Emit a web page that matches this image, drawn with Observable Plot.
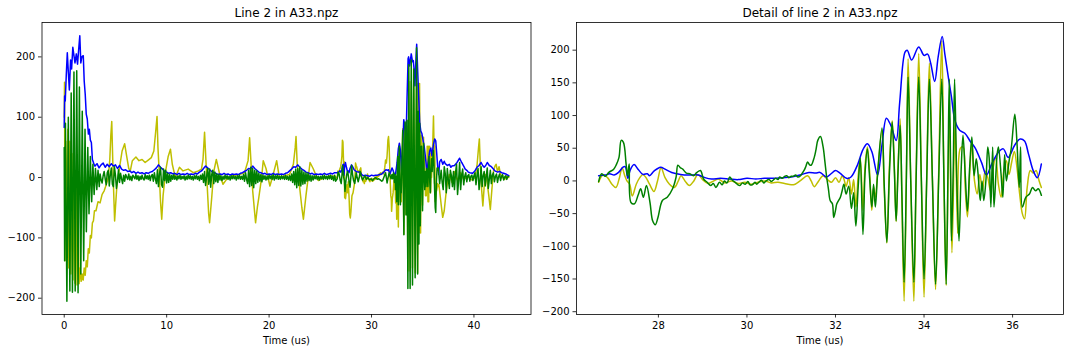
<!DOCTYPE html>
<html><head><meta charset="utf-8">
<script src="https://cdn.jsdelivr.net/npm/d3@7"></script>
<script src="https://cdn.jsdelivr.net/npm/@observablehq/plot@0.6"></script>
<style>
body{margin:0;background:#fff;}
#wrap{display:flex;width:1072px;height:352px;background:#fff;}
</style></head><body><div id="wrap"></div>
<script>
// Series A: slow signal (yellow in overview, green in detail). [time (us), value]
const slowSignal = [
[0.00,100],[0.03,158],[0.08,-138],[0.15,60],[0.25,-100],[0.35,80],[0.45,-150],[0.55,60],[0.65,-160],[0.75,40],[0.85,-170],[0.95,20],[1.05,-175],[1.15,0],[1.25,-178],[1.35,-60],[1.45,-176],[1.55,-150],[1.65,-172],[1.75,-160],[1.85,-170],[1.95,-150],[2.05,-162],[2.15,-138],[2.25,-148],[2.35,-118],[2.45,-125],[2.55,-96],[2.65,-100],[2.75,-75],[2.85,-72],[2.95,-55],[3.10,-55],[3.30,-40],[3.50,-42],[3.70,-28],[3.90,-22],[4.10,-12],[4.30,0],[4.45,30],[4.55,70],[4.64,93],[4.72,40],[4.80,-10],[4.92,-72],[5.00,-50],[5.15,-11],[5.40,17],[5.65,44],[5.90,56],[6.10,35],[6.30,15],[6.45,11],[6.65,28],[7.00,34],[7.30,28],[7.60,30],[7.90,25],[8.20,29],[8.50,33],[8.75,44],[8.95,80],[9.06,101],[9.15,50],[9.25,17],[9.40,-40],[9.52,-69],[9.65,-30],[9.90,11],[10.15,35],[10.37,47],[10.55,22],[10.85,0],[11.25,17],[11.60,11],[12.10,14],[12.60,8],[13.10,11],[13.40,14],[13.55,30],[13.70,75],[13.80,40],[13.95,-11],[14.10,-60],[14.19,-75],[14.40,-33],[14.60,10],[14.85,30],[15.18,5],[15.50,-11],[15.85,-3],[16.40,3],[17.10,5],[17.60,8],[17.95,28],[18.10,66],[18.25,20],[18.40,-22],[18.68,-75],[18.85,-50],[19.00,-33],[19.27,0],[19.43,28],[19.70,15],[20.08,-14],[20.40,5],[20.74,28],[21.00,0],[21.50,3],[22.00,5],[22.37,22],[22.55,50],[22.63,68],[22.75,20],[22.95,-11],[23.20,-50],[23.35,-69],[23.60,-30],[24.00,25],[24.30,15],[24.80,-5],[25.40,0],[26.00,3],[26.40,2],
[26.65,-1],[26.72,11],[26.80,7],[26.88,13],[26.99,18],[27.05,25],[27.11,36],[27.16,62],[27.21,59],[27.27,26],[27.30,8],[27.34,26],[27.38,-33],[27.46,-35],[27.54,-22],[27.60,-12],[27.66,-25],[27.73,-7],[27.81,-33],[27.87,-61],[27.93,-67],[27.99,-56],[28.09,-30],[28.20,-25],[28.32,-12],[28.40,6],[28.44,24],[28.50,20],[28.55,18],[28.63,12],[28.71,11],[28.79,8],[28.87,13],[28.95,16],[29.02,3],[29.10,-2],[29.18,-7],[29.24,-4],[29.30,-10],[29.38,-2],[29.44,-6],[29.49,0],[29.55,-3],[29.61,6],[29.67,1],[29.73,-2],[29.78,-5],[29.84,-7],[29.90,-3],[29.96,-5],[30.02,-1],[30.07,-6],[30.12,-6],[30.18,-2],[30.22,-5],[30.27,-2],[30.33,1],[30.38,-3],[30.43,0],[30.50,2],[30.55,-1],[30.59,1],[30.65,4],[30.70,2],[30.74,6],[30.80,4],[30.85,7],[30.90,8],[30.95,5],[31.00,7],[31.05,7],[31.10,9],[31.15,6],[31.21,8],[31.25,12],[31.29,16],[31.33,22],[31.37,29],[31.41,25],[31.45,24],[31.52,36],[31.56,48],[31.60,62],[31.66,68],[31.72,52],[31.76,30],[31.80,6],[31.84,-12],[31.88,-30],[31.93,-35],[31.96,-56],[32.00,-45],[32.03,-35],[32.11,-25],[32.15,-15],
[32.19,-5],[32.24,-20],[32.30,-8],[32.36,-42],[32.41,-18],[32.46,-69],[32.51,-12],[32.56,35],[32.62,-82],[32.67,15],[32.72,49],[32.77,5],[32.82,-40],[32.86,-5],[32.90,-40],[32.95,10],[33.05,81],[33.10,-5],[33.16,-94],[33.22,15],[33.28,90],[33.33,15],[33.37,-61],[33.41,10],[33.46,85],[33.50,-20],[33.55,-155],[33.60,0],[33.64,159],[33.70,0],[33.77,-155],[33.82,0],[33.88,159],[33.94,0],[34.00,-150],[34.06,0],[34.12,156],[34.19,0],[34.26,-158],[34.33,0],[34.40,156],[34.45,0],[34.50,-158],[34.54,10],[34.57,156],[34.60,20],[34.62,-92],[34.66,20],[34.69,156],[34.74,0],[34.79,-92],[34.84,20],[34.88,70],[34.93,10],[34.98,-46],[35.03,20],[35.08,67],[35.13,8],[35.18,34],[35.22,11],[35.27,-30],[35.31,0],[35.35,-30],[35.40,3],[35.44,52],[35.47,36],[35.51,-40],[35.55,52],[35.58,-40],[35.65,40],[35.68,52],[35.74,10],[35.78,-25],[35.82,40],[35.86,0],[35.92,30],[35.97,50],[36.05,102],[36.10,57],[36.15,-10],[36.18,52],[36.22,-40],[36.30,-25],[36.38,-20],[36.45,-10],[36.52,-15],[36.58,-12],[36.65,-22],
[36.80,-45],[36.95,-66],[37.10,-55],[37.25,-30],[37.40,-10],[37.60,5],[37.85,-8],[38.10,10],[38.40,-5],[38.70,8],[39.00,-3],[39.40,2],[39.80,-4],[40.10,0],[40.30,20],[40.45,50],[40.53,64],[40.62,20],[40.75,-20],[40.87,-47],[41.00,-15],[41.15,5],[41.30,-10],[41.45,-30],[41.60,-53],[41.75,-20],[41.90,10],[42.05,19],[42.17,22],[42.30,10],[42.45,18],[42.60,5],[42.80,0],[43.00,-3],[43.20,3],[43.40,0]
];

// Series B: fast signal (green in overview, yellow in detail). [time (us), value]
const fastSignal = [
[0.00,50],[0.04,-138],[0.12,90],[0.26,-205],[0.40,100],[0.55,-188],[0.68,140],[0.80,-190],[0.95,175],[1.07,-188],[1.22,177],[1.35,-191],[1.48,150],[1.62,-160],[1.76,110],[1.90,-138],[2.03,80],[2.16,-90],[2.30,50],[2.42,-60],[2.55,35],[2.68,-40],[2.80,22],[2.92,-28],[3.05,15],[3.18,-20],[3.30,12],[3.42,-15],
[3.5,6],[3.6,-4],[3.7,-9],[3.8,3],[3.9,10],[4.0,-2],[4.1,-12],[4.2,8],[4.3,12],[4.4,-14],
[4.5,5],[4.6,16],[4.7,-11],[4.8,-15],[4.9,18],[5.0,4],[5.1,-18],[5.2,-6],[5.3,13],[5.4,-8],
[5.5,7],[5.6,-2],[5.7,-10],[5.8,4],[5.9,-6],[6.0,5],[6.1,1],[6.2,-3],[6.3,6],[6.4,-4],
[6.5,2],[6.6,-5],[6.7,4],[6.8,1],[6.9,-2],[7.0,5],[7.1,-3],[7.2,3],[7.3,-5],[7.4,2],
[7.5,-3],[7.6,4],[7.7,-2],[7.8,-4],[7.9,5],[8.0,-2],[8.1,3],[8.2,-3],[8.3,4],[8.4,-5],
[8.5,3],[8.6,5],[8.7,-6],[8.8,8],[8.9,-2],[9.0,-10],[9.1,13],[9.2,-15],[9.3,6],[9.4,17],
[9.5,-12],[9.6,-16],[9.7,14],[9.8,-5],[9.9,12],[10.0,-9],[10.1,7],[10.2,-8],[10.3,5],[10.4,-6],
[10.5,4],[10.6,-3],[10.7,5],[10.8,-3],[10.9,2],[11.0,-4],[11.1,3],[11.2,-2],[11.3,4],[11.4,-3],
[11.5,2],[11.6,-2],[11.7,3],[11.8,-4],[11.9,2],[12.0,-3],[12.1,4],[12.2,-2],[12.3,3],[12.4,-3],
[12.5,2],[12.6,-4],[12.7,3],[12.8,-2],[12.9,4],[13.0,-3],[13.1,2],[13.2,-5],[13.3,4],[13.4,-3],
[13.5,6],[13.6,-8],[13.7,10],[13.8,-13],[13.9,2],[14.0,15],[14.1,-11],[14.2,14],[14.3,-16],[14.4,5],
[14.5,12],[14.6,-10],[14.7,9],[14.8,-7],[14.9,6],[15.0,-8],[15.1,5],[15.2,-4],[15.3,3],[15.4,-5],
[15.5,2],[15.6,-3],[15.7,4],[15.8,-2],[15.9,3],[16.0,-3],[16.1,2],[16.2,-4],[16.3,3],[16.4,-2],
[16.5,3],[16.6,-2],[16.7,2],[16.8,-4],[16.9,3],[17.0,-2],[17.1,4],[17.2,-3],[17.3,2],[17.4,-3],
[17.5,5],[17.6,-6],[17.7,8],[17.8,-3],[17.9,-10],[18.0,12],[18.1,-15],[18.2,17],[18.3,-13],[18.4,15],
[18.5,-17],[18.6,12],[18.7,-10],[18.8,11],[18.9,-8],[19.0,7],[19.1,-6],[19.2,5],[19.3,-7],[19.4,4],
[19.5,-3],[19.6,3],[19.7,-4],[19.8,2],[19.9,-3],[20.0,4],[20.1,-2],[20.2,3],[20.3,-3],[20.4,5],
[20.5,-4],[20.6,3],[20.7,-2],[20.8,4],[20.9,-3],[21.0,2],[21.1,-3],[21.2,3],[21.3,-2],[21.4,2],
[21.5,-3],[21.6,4],[21.7,-3],[21.8,2],[21.9,-4],[22.0,3],[22.1,-5],[22.2,6],[22.3,-8],[22.4,10],
[22.5,-12],[22.6,14],[22.7,-17],[22.8,15],[22.9,-13],[23.0,18],[23.1,-14],[23.2,12],[23.3,-11],[23.4,9],
[23.5,-10],[23.6,8],[23.7,-6],[23.8,7],[23.9,-5],[24.0,4],[24.1,-6],[24.2,3],[24.3,-4],[24.4,3],
[24.5,-2],[24.6,3],[24.7,-3],[24.8,2],[24.9,-4],[25.0,2],[25.1,-2],[25.2,3],[25.3,-3],[25.4,4],
[25.5,-2],[25.6,2],[25.7,-3],[25.8,3],[25.9,-2],[26.0,4],[26.1,-3],[26.2,2],[26.3,-5],[26.4,4],[26.5,-6],
[26.65,-2],[26.75,9],[26.85,5],[26.95,-5],[27.04,-10],[27.12,5],[27.18,20],[27.24,8],[27.29,0],[27.35,-5],[27.41,-23],[27.50,-5],[27.58,5],[27.65,10],[27.72,5],[27.80,-5],[27.90,-16],[27.98,0],[28.06,20],[28.15,5],[28.25,-5],[28.36,-10],[28.45,0],[28.51,8],[28.60,0],[28.70,-7],[28.80,0],[28.89,10],[29.00,2],[29.12,-4],[29.25,0],[29.35,3],[29.50,-3],[29.65,0],[29.80,-4],[29.95,-2],[30.10,-5],[30.25,-2],[30.40,0],[30.55,-3],[30.70,-2],[30.85,-4],[31.00,-6],[31.09,-5],[31.20,0],[31.37,8],[31.45,0],[31.52,-9],[31.62,0],[31.72,8],[31.82,2],[31.91,-2],[32.00,5],[32.08,-2],[32.15,8],
[32.19,3],[32.24,-8],[32.30,5],[32.36,-20],[32.41,2],[32.46,-40],[32.51,5],[32.56,35],[32.62,-45],[32.67,25],[32.72,52],[32.77,15],[32.82,-45],[32.86,-10],[32.90,-25],[32.95,10],[33.05,78],[33.10,-10],[33.16,-95],[33.22,25],[33.28,92],[33.33,20],[33.37,-62],[33.41,15],[33.46,95],[33.50,-30],[33.55,-184],[33.60,5],[33.64,187],[33.70,0],[33.77,-184],[33.82,5],[33.88,195],[33.94,0],[34.00,-178],[34.06,5],[34.12,180],[34.19,0],[34.26,-166],[34.33,10],[34.40,215],[34.45,0],[34.50,-160],[34.57,110],[34.63,-110],[34.70,90],[34.76,-80],[34.82,50],[34.88,52],[34.93,-10],[34.98,-55],[35.03,10],[35.08,57],[35.14,0],[35.20,-20],[35.26,10],[35.32,-15],[35.38,15],[35.44,5],[35.50,-15],[35.56,20],[35.62,35],[35.68,-5],[35.74,-25],[35.80,15],[35.86,31],[35.92,10],[35.98,29],[36.04,45],[36.10,20],[36.16,-20],[36.22,-50],[36.27,-58],[36.33,-10],[36.40,16],[36.47,12],[36.53,16],[36.60,0],[36.65,-10],
[36.8,12],[36.9,-8],[37.0,-20],[37.1,18],[37.2,6],[37.3,-25],[37.4,15],[37.5,-4],[37.6,-18],[37.7,12],[37.8,3],[37.9,-15],[38.0,10],[38.1,-20],[38.2,8],[38.3,22],[38.4,-28],[38.5,-6],[38.6,25],[38.7,-20],[38.8,4],[38.9,14],[39.0,-12],[39.1,2],[39.2,8],[39.3,-7],[39.4,3],[39.5,5],[39.6,-6],[39.7,2],[39.8,4],[39.9,-5],[40.0,3],[40.1,8],[40.2,-12],[40.3,4],[40.4,15],[40.5,-20],[40.6,-5],[40.7,18],[40.8,-15],[40.9,3],[41.0,10],[41.1,-14],[41.2,2],[41.3,16],[41.4,-18],[41.5,-3],[41.6,12],[41.7,-10],[41.8,4],[41.9,8],[42.0,-7],[42.1,2],[42.2,6],[42.3,-8],[42.4,1],[42.5,6],[42.6,-5],[42.7,2],[42.8,5],[42.9,-4],[43.0,1],[43.1,3],[43.2,-3],[43.3,1],[43.4,2]
];

// Envelope of the fast signal (blue). [time (us), value]
const envelope = [
[0.00,83],[0.04,135],[0.10,127],[0.20,170],[0.30,207],[0.40,175],[0.50,145],[0.62,195],[0.72,180],[0.84,216],[0.95,202],[1.05,190],[1.18,205],[1.30,188],[1.40,210],[1.52,235],[1.62,190],[1.72,200],[1.86,202],[1.95,160],[2.05,138],[2.15,105],[2.25,97],[2.36,72],[2.45,80],[2.55,62],[2.65,58],[2.75,30],[2.85,25],[2.95,20],
[3.0,19],[3.2,23],[3.4,16],[3.6,21],[3.8,24],[4.0,17],[4.2,22],[4.4,18],[4.6,23],[4.8,19],[5.0,21],[5.2,15],[5.4,20],[5.6,14],[5.8,12],[6.0,13],[6.2,10],[6.4,11],[6.6,8],[6.8,10],[7.0,7],[7.2,9],[7.4,7],[7.6,8],[7.8,6],[8.0,8],[8.2,7],[8.4,9],[8.6,10],[8.8,13],[9.0,16],[9.2,21],[9.4,17],[9.6,14],[9.8,10],[10.0,9],[10.2,7],[10.4,8],[10.6,6],[10.8,7],[11.0,5],[11.2,7],[11.4,5],[11.6,6],[11.8,5],[12.0,7],[12.2,5],[12.4,6],[12.6,5],[12.8,7],[13.0,6],[13.2,9],[13.4,11],[13.6,15],[13.8,19],[14.0,16],[14.2,13],[14.4,10],[14.6,8],[14.8,7],[15.0,5],[15.2,6],[15.4,5],[15.6,7],[15.8,5],[16.0,6],[16.2,4],[16.4,6],[16.6,5],[16.8,6],[17.0,5],[17.2,7],[17.4,8],[17.6,10],[17.8,12],[18.0,15],[18.2,14],[18.4,19],[18.6,15],[18.8,12],[19.0,9],[19.2,8],[19.4,6],[19.6,7],[19.8,5],[20.0,6],[20.2,5],[20.4,7],[20.6,5],[20.8,6],[21.0,5],[21.2,6],[21.4,5],[21.6,7],[21.8,8],[22.0,11],[22.2,14],[22.4,18],[22.6,17],[22.8,21],[23.0,17],[23.2,14],[23.4,12],[23.6,9],[23.8,8],[24.0,6],[24.2,7],[24.4,5],[24.6,6],[24.8,5],[25.0,6],[25.2,5],[25.4,7],[25.6,5],[25.8,6],[26.0,7],[26.2,6],[26.4,8],
[26.65,8],[26.80,9],[26.90,11],[27.00,9],[27.10,13],[27.20,21],[27.25,22],[27.31,4],[27.36,16],[27.45,25],[27.55,17],[27.65,10],[27.75,11],[27.80,8],[27.90,15],[28.05,21],[28.15,18],[28.30,13],[28.50,10],[28.70,9],[28.90,9],[29.05,5],[29.20,3],[29.40,4],[29.60,3],[29.80,2],[30.00,4],[30.20,3],[30.40,4],[30.60,4],[30.80,5],[31.00,6],[31.20,9],[31.40,13],[31.55,12],[31.65,13],[31.80,6],[31.90,11],[32.00,16],[32.10,12],[32.25,4],[32.35,6],[32.50,25],[32.62,48],[32.72,57],[32.82,45],[32.95,9],[33.05,55],[33.15,96],[33.25,85],[33.37,62],[33.45,120],[33.57,197],[33.62,200],[33.72,185],[33.88,205],[34.00,192],[34.08,194],[34.15,180],[34.24,152],[34.32,190],[34.41,221],[34.47,194],[34.55,158],[34.62,128],[34.70,92],[34.81,77],[34.92,73],[35.05,60],[35.15,51],[35.30,28],[35.41,9],[35.53,26],[35.68,44],[35.79,49],[35.90,36],[36.05,55],[36.17,64],[36.27,61],[36.36,41],[36.47,15],[36.56,5],[36.65,26],
[36.80,30],[36.96,22],[37.10,27],[37.20,23],[37.40,20],[37.60,22],[37.75,17],[37.85,19],[38.10,20],[38.35,25],[38.60,32],[38.80,25],[39.00,19],[39.15,14],[39.30,12],[39.45,9],[39.60,8],[39.85,7],[40.05,10],[40.30,17],[40.50,20],[40.70,25],[40.85,20],[41.00,17],[41.15,20],[41.30,25],[41.50,20],[41.70,18],[41.90,14],[42.05,11],[42.30,9],[42.50,10],[42.70,8],[42.90,7],[43.10,6],[43.30,4],[43.40,3]
];

const overviewXTicks = [0, 10, 20, 30, 40];
const overviewYTicks = [-200, -100, 0, 100, 200];
const detailXTicks = [28, 30, 32, 34, 36];
const detailYTicks = [-200, -150, -100, -50, 0, 50, 100, 150, 200];
const titles = ["Line 2 in A33.npz", "Detail of line 2 in A33.npz"];
const xLabel = "Time (us)";
const detailRange = [26.65, 36.65];

const YELLOW = "#bfbf00", BLUE = "#0000ff", GREEN = "#008000";
const minus = d => d < 0 ? "\u2212" + Math.abs(d) : String(d);

function panel({width, marginLeft, marginRight, xDomain, yDomain, xTicks, yTicks, title, layers, curve}) {
  return Plot.plot({
    width, height: 352, marginLeft, marginRight, marginTop: 22, marginBottom: 38,
    style: {fontFamily: "'DejaVu Sans', sans-serif", fontSize: "10px", background: "white", color: "black", overflow: "visible"},
    x: {domain: xDomain, label: null},
    y: {domain: yDomain, label: null},
    marks: [
      ...layers.map(([data, color]) => Plot.line(data, {x: d => d[0], y: d => d[1], stroke: color, strokeWidth: 1.5, strokeLinejoin: "round", curve})),
      Plot.frame({stroke: "black", strokeWidth: 0.8}),
      Plot.axisX({ticks: xTicks, tickSize: 3.5, tickPadding: 3.5, tickFormat: minus, label: null, strokeWidth: 0.8}),
      Plot.axisY({ticks: yTicks, tickSize: 3.5, tickPadding: 3.5, tickFormat: minus, label: null, strokeWidth: 0.8}),
      Plot.text([title], {text: d => d, frameAnchor: "top", lineAnchor: "middle", dy: -9.5, fontSize: 12}),
      Plot.text([xLabel], {text: d => d, frameAnchor: "bottom", lineAnchor: "middle", dy: 26, fontSize: 10})
    ]
  });
}

const inDetail = d => d[0] >= detailRange[0] - 1e-9 && d[0] <= detailRange[1] + 1e-9;

const left = panel({
  width: 536, marginLeft: 41.5, marginRight: 5.5,
  xDomain: [-2.17, 45.57], yDomain: [-227, 257],
  xTicks: overviewXTicks, yTicks: overviewYTicks, title: titles[0], curve: "linear",
  layers: [[slowSignal, YELLOW], [envelope, BLUE], [fastSignal, GREEN]]
});
const right = panel({
  width: 536, marginLeft: 40, marginRight: 9,
  xDomain: [26.15, 37.15], yDomain: [-204.3, 242.3],
  xTicks: detailXTicks, yTicks: detailYTicks, title: titles[1], curve: "catmull-rom",
  layers: [[fastSignal.filter(inDetail), YELLOW], [envelope.filter(inDetail), BLUE], [slowSignal.filter(inDetail), GREEN]]
});
document.getElementById("wrap").append(left, right);
</script></body></html>
